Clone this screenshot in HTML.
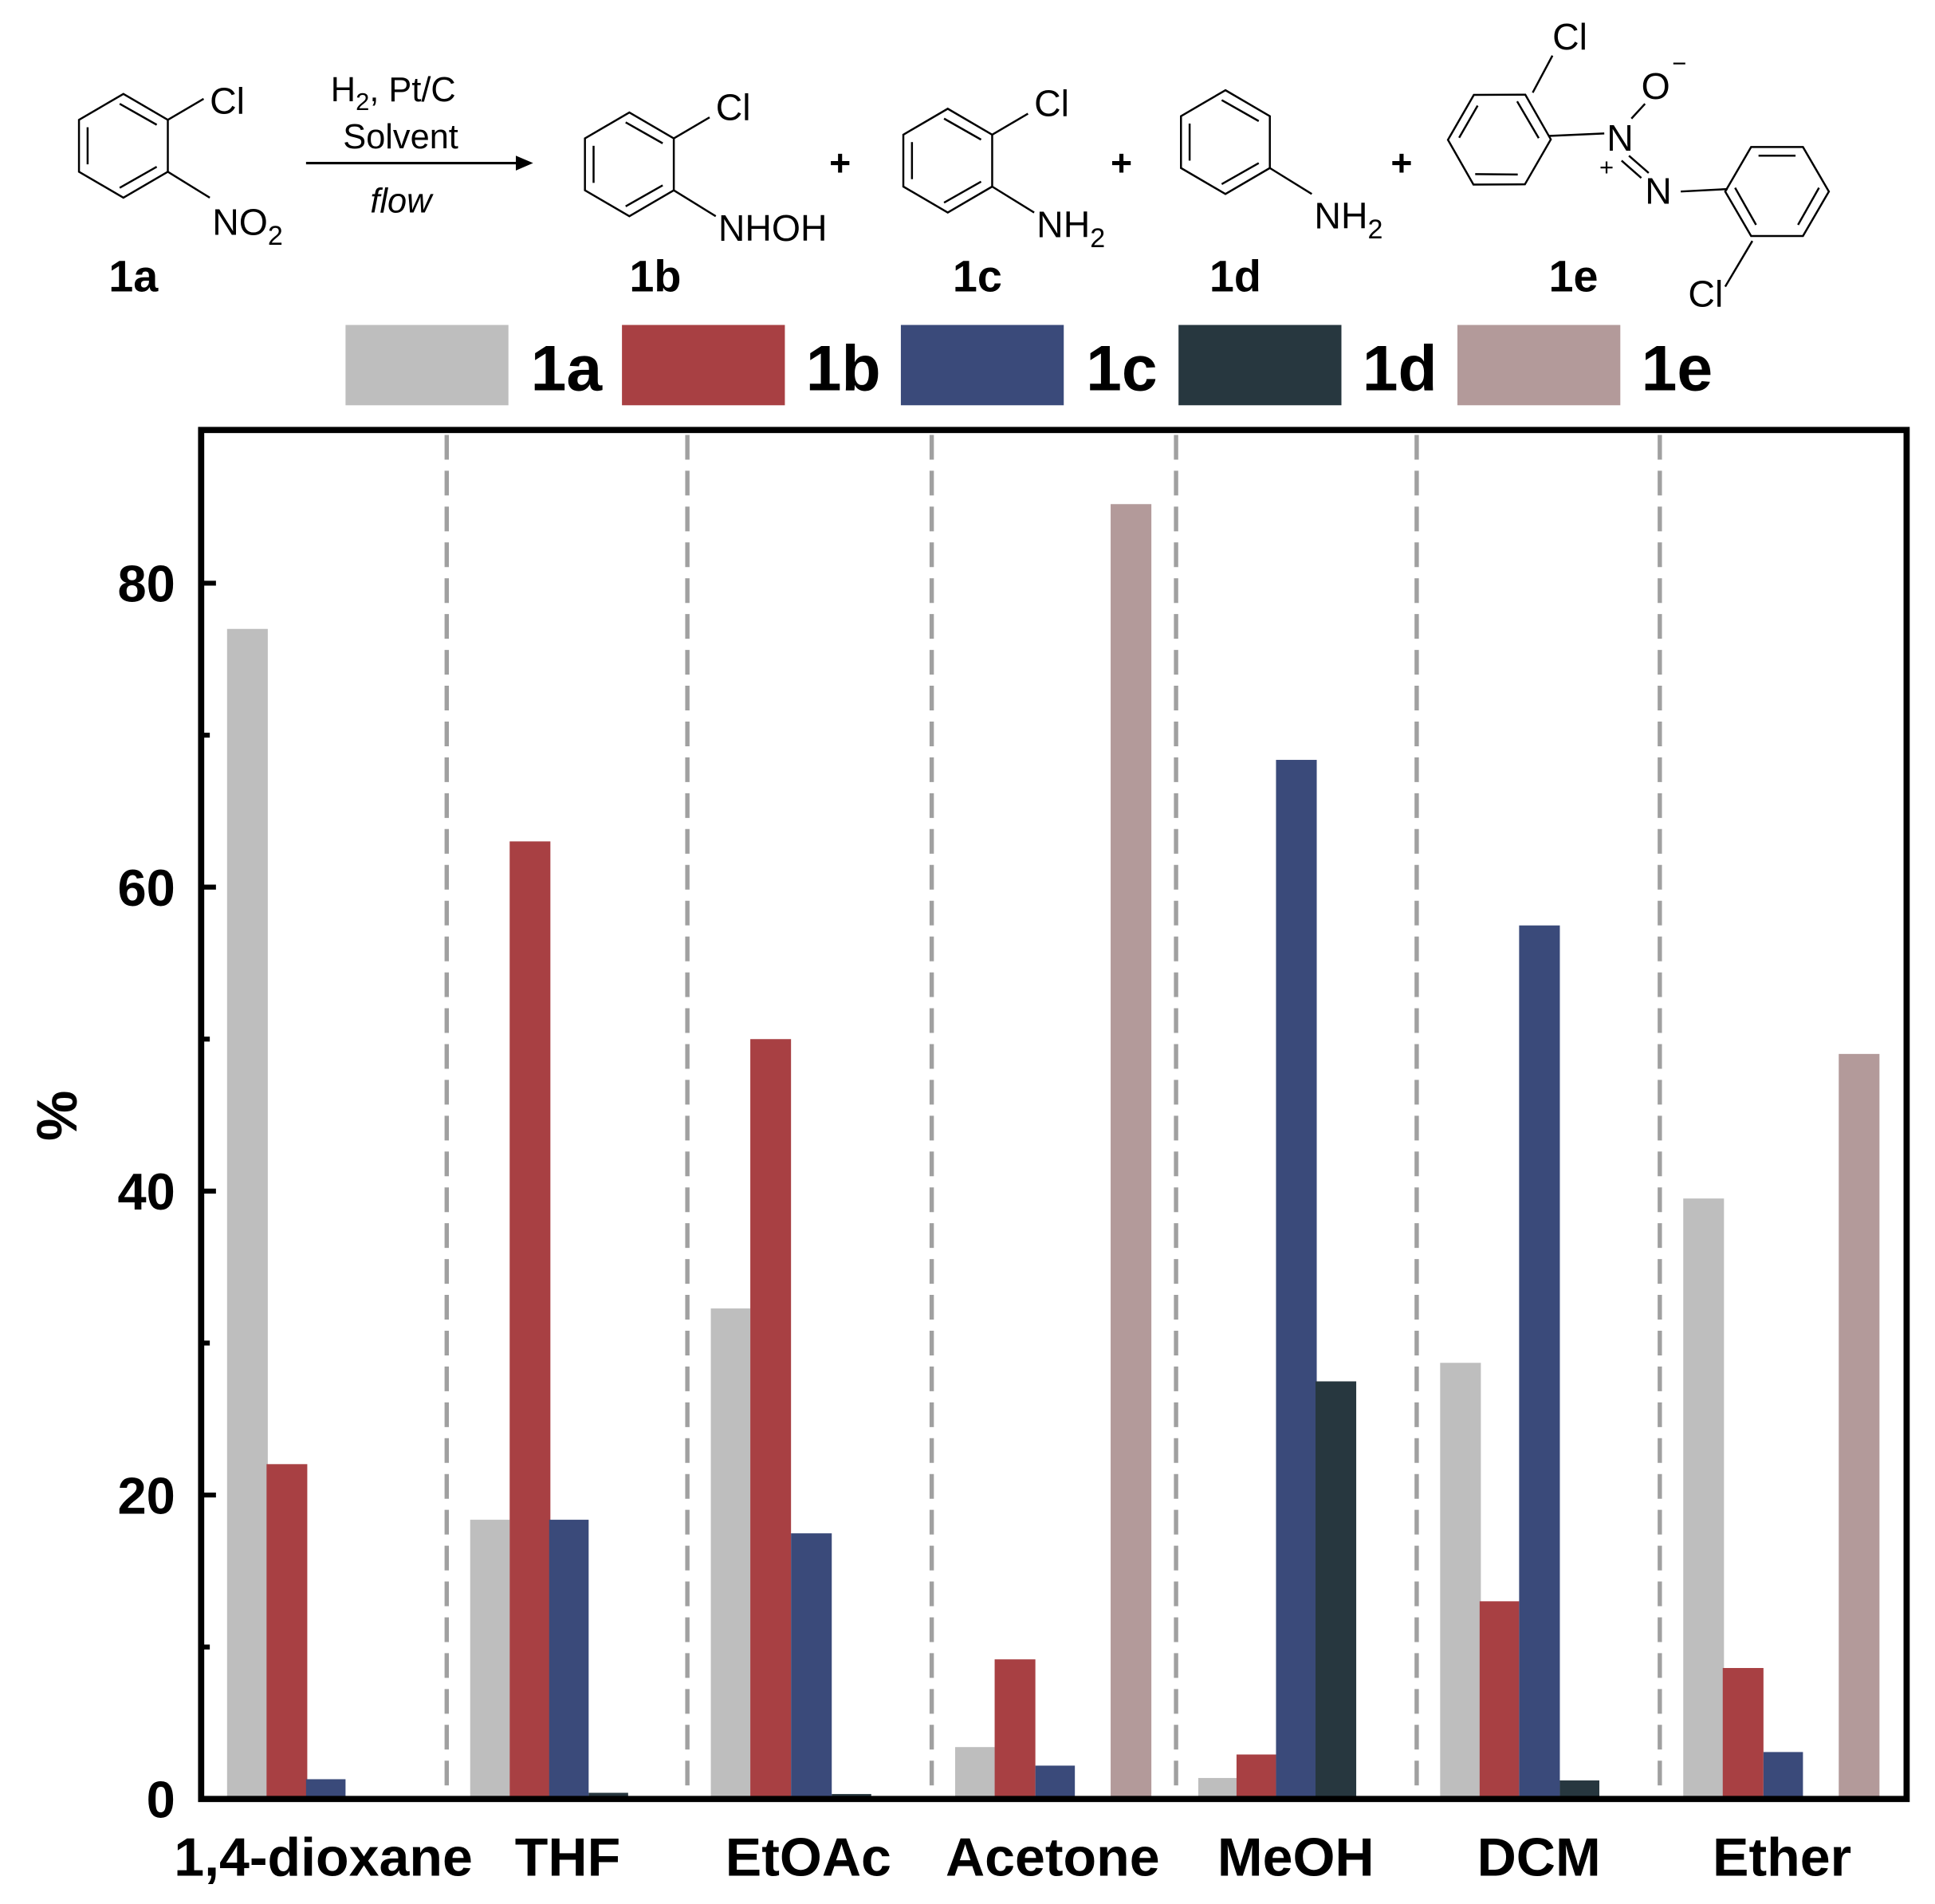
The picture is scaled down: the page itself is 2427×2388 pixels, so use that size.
<!DOCTYPE html>
<html><head><style>html,body{margin:0;padding:0;background:#fff}svg{display:block}</style></head><body>
<svg width="2427" height="2388" viewBox="0 0 1568 1541" preserveAspectRatio="none" xmlns="http://www.w3.org/2000/svg" font-family="Liberation Sans, Arial, sans-serif">
<rect width="1568" height="1541" fill="#fff"/>
<defs>
<g id="hex" fill="none" stroke="#000" stroke-width="1.6">
<polygon points="0,-42 36,-21 36,21 0,42 -36,21 -36,-21"/>
<line x1="-29" y1="-15" x2="-29" y2="15"/><line x1="-3" y1="-34" x2="27" y2="-17"/><line x1="-3" y1="34" x2="27" y2="17"/>
</g>
</defs>
<g font-size="30" fill="#000">
<use href="#hex" transform="translate(100,118)"/>
<line x1="136" y1="97" x2="165" y2="80" stroke="#000" stroke-width="1.6"/><text x="170" y="92">Cl</text>
<line x1="136" y1="139" x2="170" y2="160" stroke="#000" stroke-width="1.6"/><text x="172" y="190">NO<tspan font-size="22" dy="8">2</tspan></text>
<text x="88" y="236" font-weight="bold" font-size="36">1a</text>
<text x="268" y="82" font-size="28">H<tspan font-size="20" dy="7">2</tspan><tspan dy="-7">, Pt/C</tspan></text>
<text x="278" y="120" font-size="28">Solvent</text>
<line x1="248" y1="132" x2="425" y2="132" stroke="#000" stroke-width="2"/><polygon points="432,132 418,126 418,138"/>
<text x="300" y="172" font-size="28" font-style="italic">flow</text>
<use href="#hex" transform="translate(510,133)"/>
<line x1="546" y1="112" x2="575" y2="95" stroke="#000" stroke-width="1.6"/><text x="580" y="97">Cl</text>
<line x1="546" y1="154" x2="580" y2="175" stroke="#000" stroke-width="1.6"/><text x="582" y="195">NHOH</text>
<text x="510" y="236" font-weight="bold" font-size="36">1b</text>
<text x="672" y="142" font-weight="bold">+</text>
<use href="#hex" transform="translate(768,130)"/>
<line x1="804" y1="109" x2="833" y2="92" stroke="#000" stroke-width="1.6"/><text x="838" y="94">Cl</text>
<line x1="804" y1="151" x2="838" y2="172" stroke="#000" stroke-width="1.6"/><text x="840" y="192">NH<tspan font-size="22" dy="8">2</tspan></text>
<text x="772" y="236" font-weight="bold" font-size="36">1c</text>
<text x="900" y="142" font-weight="bold">+</text>
<use href="#hex" transform="translate(993,115)"/>
<line x1="1029" y1="136" x2="1063" y2="157" stroke="#000" stroke-width="1.6"/><text x="1065" y="185">NH<tspan font-size="22" dy="8">2</tspan></text>
<text x="980" y="236" font-weight="bold" font-size="36">1d</text>
<text x="1127" y="142" font-weight="bold">+</text>
<use href="#hex" transform="translate(1215,113) rotate(30)"/>
<line x1="1242" y1="75" x2="1258" y2="45" stroke="#000" stroke-width="1.6"/><text x="1258" y="40">Cl</text>
<line x1="1255" y1="110" x2="1300" y2="108" stroke="#000" stroke-width="1.6"/>
<text x="1302" y="122">N</text><text x="1330" y="80">O</text><text x="1355" y="58" font-size="20">−</text>
<line x1="1322" y1="96" x2="1333" y2="84" stroke="#000" stroke-width="1.6"/>
<line x1="1320" y1="126" x2="1336" y2="140" stroke="#000" stroke-width="1.6"/>
<line x1="1314" y1="130" x2="1330" y2="144" stroke="#000" stroke-width="1.6"/>
<text x="1296" y="142" font-size="20">+</text>
<text x="1333" y="165">N</text>
<line x1="1362" y1="155" x2="1400" y2="153" stroke="#000" stroke-width="1.6"/>
<use href="#hex" transform="translate(1440,155) rotate(90)"/>
<line x1="1420" y1="195" x2="1398" y2="232" stroke="#000" stroke-width="1.6"/><text x="1368" y="248">Cl</text>
<text x="1255" y="236" font-weight="bold" font-size="36">1e</text>
</g>
<g font-weight="bold" font-size="52">
<rect x="280" y="263" width="132" height="65" fill="#bebebe"/><text x="430" y="316">1a</text>
<rect x="504" y="263" width="132" height="65" fill="#a84043"/><text x="653" y="316">1b</text>
<rect x="730" y="263" width="132" height="65" fill="#3a4a7a"/><text x="880" y="316">1c</text>
<rect x="955" y="263" width="132" height="65" fill="#27373f"/><text x="1104" y="316">1d</text>
<rect x="1181" y="263" width="132" height="65" fill="#b39a9a"/><text x="1330" y="316">1e</text>
</g>
<g stroke="#a0a0a0" stroke-width="3.5" stroke-dasharray="20,9">
<line x1="362" y1="352" x2="362" y2="1454"/><line x1="557" y1="352" x2="557" y2="1454"/><line x1="755" y1="352" x2="755" y2="1454"/>
<line x1="953" y1="352" x2="953" y2="1454"/><line x1="1148" y1="352" x2="1148" y2="1454"/><line x1="1345" y1="352" x2="1345" y2="1454"/>
</g>
<g>
<rect x="184" y="509" width="33" height="947" fill="#bebebe"/>
<rect x="216" y="1185" width="33" height="271" fill="#a84043"/>
<rect x="248" y="1440" width="32" height="16" fill="#3a4a7a"/>
<rect x="381" y="1230" width="32" height="226" fill="#bebebe"/>
<rect x="413" y="681" width="33" height="775" fill="#a84043"/>
<rect x="445" y="1230" width="32" height="226" fill="#3a4a7a"/>
<rect x="477" y="1451" width="32" height="5" fill="#27373f"/>
<rect x="576" y="1059" width="32" height="397" fill="#bebebe"/>
<rect x="608" y="841" width="33" height="615" fill="#a84043"/>
<rect x="641" y="1241" width="33" height="215" fill="#3a4a7a"/>
<rect x="674" y="1452" width="32" height="4" fill="#27373f"/>
<rect x="774" y="1414" width="32" height="42" fill="#bebebe"/>
<rect x="806" y="1343" width="33" height="113" fill="#a84043"/>
<rect x="839" y="1429" width="32" height="27" fill="#3a4a7a"/>
<rect x="900" y="408" width="33" height="1048" fill="#b39a9a"/>
<rect x="971" y="1439" width="32" height="17" fill="#bebebe"/>
<rect x="1002" y="1420" width="32" height="36" fill="#a84043"/>
<rect x="1034" y="615" width="33" height="841" fill="#3a4a7a"/>
<rect x="1066" y="1118" width="33" height="338" fill="#27373f"/>
<rect x="1167" y="1103" width="33" height="353" fill="#bebebe"/>
<rect x="1199" y="1296" width="32" height="160" fill="#a84043"/>
<rect x="1231" y="749" width="33" height="707" fill="#3a4a7a"/>
<rect x="1264" y="1441" width="32" height="15" fill="#27373f"/>
<rect x="1364" y="970" width="33" height="486" fill="#bebebe"/>
<rect x="1396" y="1350" width="33" height="106" fill="#a84043"/>
<rect x="1429" y="1418" width="32" height="38" fill="#3a4a7a"/>
<rect x="1490" y="853" width="33" height="603" fill="#b39a9a"/>
</g>
<rect x="163" y="348" width="1382" height="1108" fill="none" stroke="#000" stroke-width="5"/>
<g stroke="#000" stroke-width="4">
<line x1="163" y1="1210" x2="175" y2="1210"/><line x1="163" y1="964" x2="175" y2="964"/><line x1="163" y1="718" x2="175" y2="718"/><line x1="163" y1="472" x2="175" y2="472"/>
<line x1="163" y1="1333" x2="170" y2="1333"/><line x1="163" y1="1087" x2="170" y2="1087"/><line x1="163" y1="841" x2="170" y2="841"/><line x1="163" y1="595" x2="170" y2="595"/>
</g>
<g font-weight="bold" font-size="42" text-anchor="end">
<text x="142" y="1471">0</text><text x="142" y="1225">20</text><text x="142" y="979">40</text><text x="142" y="733">60</text><text x="142" y="487">80</text>
</g>
<text transform="translate(62,903) rotate(-90)" font-weight="bold" font-size="46" text-anchor="middle">%</text>
<g font-weight="bold" font-size="44" text-anchor="middle">
<text x="262" y="1518">1,4-dioxane</text><text x="460" y="1518">THF</text><text x="655" y="1518">EtOAc</text>
<text x="853" y="1518">Acetone</text><text x="1050" y="1518">MeOH</text><text x="1247" y="1518">DCM</text><text x="1444" y="1518">Ether</text>
</g>
</svg>
</body></html>
